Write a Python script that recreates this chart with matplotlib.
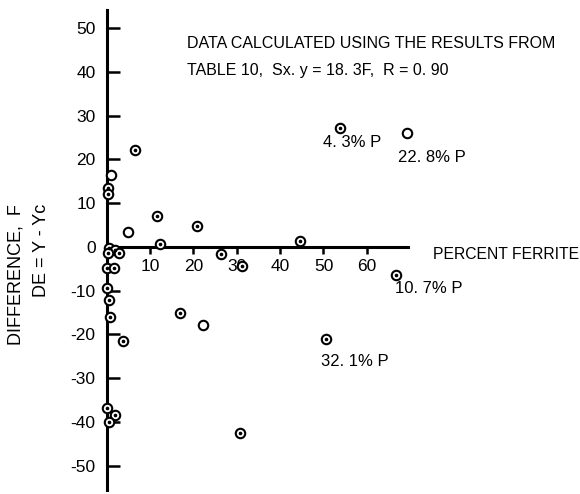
import matplotlib.pyplot as plt
import numpy as np

# percent ferrite (x) and difference DE = Y - Yc (y)
ferrite = [53.8, 69.3, 66.8, 50.6, 30.8, 22.3, 16.9, 11.6, 20.8, 4.9,
           12.3, 44.6, 26.3, 31.1, 6.5, 1.0, 0.3, 0.3, 0.5, 1.8,
           2.8, 0.2, 0.1, 1.7, 0.1, 0.6, 0.8, 3.8, 0.1, 1.9, 0.6]
difference = [27.2, 26.1, -6.4, -21.0, -42.6, -17.8, -15.1, 7.1, 4.8, 3.4,
              0.7, 1.4, -1.6, -4.3, 22.2, 16.5, 13.5, 12.2, -0.3, -0.8,
              -1.4, -1.3, -4.8, -4.8, -9.4, -12.1, -16.0, -21.5, -36.8, -38.4, -40.0]
# True = circle with centre dot, False = open circle
dotted = [True, False, True, True, True, False, True, True, True, False,
          True, True, True, True, True, False, True, True, True, True,
          True, True, True, True, True, True, True, True, True, True, True]

yticks = [-50, -40, -30, -20, -10, 0, 10, 20, 30, 40, 50]
xticks = [10, 20, 30, 40, 50, 60]

notes = ["4. 3% P", "22. 8% P", "10. 7% P", "32. 1% P"]
note_x = [49.9, 67.2, 66.6, 49.5]
note_y = [23.8, 20.4, -9.6, -26.3]

plt.rcParams['font.family'] = ['Liberation Sans', 'DejaVu Sans']

fig = plt.figure(figsize=(5.8, 4.94), dpi=100)
ax = fig.add_axes([0.184, 0.0081, 0.5195, 0.9717])

x = np.array(ferrite)
y = np.array(difference)
d = np.array(dotted)

ax.plot(x, y, 'o', ms=6.8, mfc='white', mec='black', mew=1.5,
        clip_on=False, zorder=3)
ax.plot(x[d], y[d], 'o', ms=1.6, color='black', clip_on=False, zorder=4)

ax.set_xlim(0, 69.5)
ax.set_ylim(-55.6, 54.2)

for s in ['top', 'right']:
    ax.spines[s].set_visible(False)
ax.spines['left'].set_position(('data', 0))
ax.spines['bottom'].set_position(('data', 0))
ax.spines['left'].set_linewidth(2.2)
ax.spines['bottom'].set_linewidth(2.2)

ax.set_yticks(yticks)
ax.set_yticklabels([str(v) for v in yticks])
ax.set_xticks(xticks)
ax.set_xticklabels([str(v) for v in xticks])
ax.tick_params(axis='y', direction='in', length=9, width=1.8, pad=8, labelsize=12.5)
ax.tick_params(axis='x', direction='out', length=5, width=1.8, pad=4, labelsize=12.5)

ax.text(18.5, 46.5, "DATA CALCULATED USING THE RESULTS FROM", fontsize=11.5,
        va='center', ha='left')
ax.text(18.5, 40.3, "TABLE 10,  Sx. y = 18. 3F,  R = 0. 90", fontsize=11.5,
        va='center', ha='left')

for t, tx, ty in zip(notes, note_x, note_y):
    ax.text(tx, ty, t, fontsize=12, va='center', ha='left')

ax.text(75.3, -1.8, "PERCENT FERRITE", fontsize=11.3, va='center', ha='left',
        clip_on=False)

fig.text(16 / 580, 1 - 204 / 494, "DIFFERENCE,  F", rotation=90, fontsize=13,
         ha='center', va='top')
fig.text(41 / 580, 1 - 204 / 494, "DE = Y - Yc", rotation=90, fontsize=13,
         ha='center', va='top')

fig.savefig("out.png", dpi=100)
